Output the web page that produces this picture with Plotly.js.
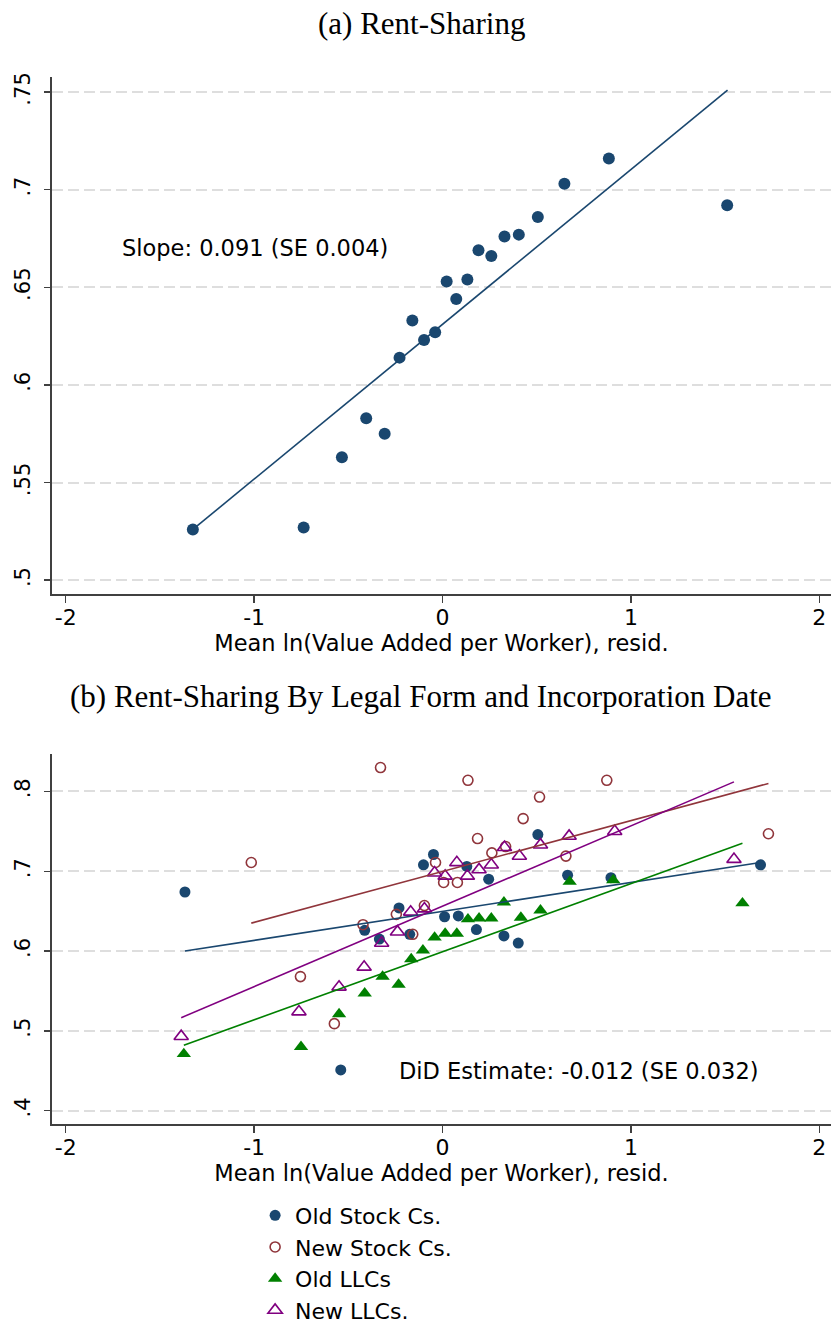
<!DOCTYPE html>
<html>
<head>
<meta charset="utf-8">
<script src="https://cdn.plot.ly/plotly-3.0.1.min.js"></script>
<style>
html,body{margin:0;padding:0;background:#fff;}
#chart{width:831px;height:1332px;}
</style>
</head>
<body>
<div id="chart"></div>
<script>
// ---------- Panel (a) data ----------
var aX = [-1.325, -0.737, -0.534, -0.405, -0.307, -0.228, -0.160, -0.098, -0.039, 0.022, 0.073, 0.132, 0.191, 0.259, 0.329, 0.405, 0.506, 0.647, 0.883, 1.511];
var aY = [0.526, 0.527, 0.563, 0.583, 0.575, 0.614, 0.633, 0.623, 0.627, 0.653, 0.644, 0.654, 0.669, 0.666, 0.676, 0.677, 0.686, 0.703, 0.716, 0.692];
var aFitX = [-1.325, 1.513];
var aFitY = [0.526, 0.751];

// ---------- Panel (b) data ----------
var oldStockX = [-1.367, -0.540, -0.413, -0.335, -0.231, -0.174, -0.101, -0.048, 0.011, 0.084, 0.129, 0.180, 0.245, 0.326, 0.402, 0.506, 0.664, 0.894, 1.688];
var oldStockY = [0.674, 0.451, 0.626, 0.615, 0.654, 0.621, 0.708, 0.721, 0.643, 0.644, 0.706, 0.627, 0.690, 0.619, 0.610, 0.746, 0.695, 0.692, 0.708];
var newStockX = [-1.015, -0.754, -0.574, -0.422, -0.329, -0.245, -0.158, -0.096, -0.037, 0.006, 0.079, 0.135, 0.186, 0.262, 0.335, 0.428, 0.515, 0.655, 0.872, 1.730];
var newStockY = [0.711, 0.568, 0.509, 0.633, 0.830, 0.646, 0.621, 0.657, 0.711, 0.686, 0.686, 0.814, 0.741, 0.723, 0.731, 0.766, 0.793, 0.719, 0.814, 0.747];
var oldLLCX = [-1.373, -0.751, -0.549, -0.413, -0.318, -0.233, -0.166, -0.104, -0.042, 0.014, 0.076, 0.135, 0.194, 0.259, 0.326, 0.416, 0.520, 0.675, 0.906, 1.592];
var oldLLCY = [0.471, 0.480, 0.521, 0.547, 0.568, 0.558, 0.590, 0.601, 0.617, 0.622, 0.622, 0.640, 0.641, 0.641, 0.661, 0.642, 0.651, 0.687, 0.689, 0.660];
var newLLCX = [-1.387, -0.762, -0.549, -0.416, -0.323, -0.239, -0.169, -0.096, -0.042, 0.014, 0.076, 0.132, 0.194, 0.259, 0.329, 0.408, 0.520, 0.672, 0.914, 1.547];
var newLLCY = [0.493, 0.524, 0.555, 0.580, 0.610, 0.624, 0.649, 0.653, 0.698, 0.694, 0.711, 0.694, 0.702, 0.708, 0.730, 0.719, 0.733, 0.744, 0.750, 0.715];
var fitOldStockX = [-1.367, 1.688], fitOldStockY = [0.600, 0.711];
var fitNewStockX = [-1.015, 1.730], fitNewStockY = [0.635, 0.810];
var fitOldLLCX = [-1.373, 1.592], fitOldLLCY = [0.482, 0.735];
var fitNewLLCX = [-1.387, 1.547], fitNewLLCY = [0.5165, 0.812];

var seriesNames = ["Old Stock Cs.", "New Stock Cs.", "Old LLCs", "New LLCs."];

// ---------- Tick labels ----------
var xTickVals = [-2, -1, 0, 1, 2];
var xTickText = ["-2", "-1", "0", "1", "2"];
var aTickVals = [0.5, 0.55, 0.6, 0.65, 0.7, 0.75];
var aTickText = [".5", ".55", ".6", ".65", ".7", ".75"];
var bTickVals = [0.4, 0.5, 0.6, 0.7, 0.8];
var bTickText = [".4", ".5", ".6", ".7", ".8"];

var xTitle = "Mean ln(Value Added per Worker), resid.";
var titleA = "(a) Rent-Sharing";
var titleB = "(b) Rent-Sharing By Legal Form and Incorporation Date";
var noteA = "Slope: 0.091 (SE 0.004)";
var noteB = "DiD Estimate: -0.012 (SE 0.032)";

var NAVY = "#1a476f", MAROON = "#90353b", GREEN = "#008000", PURPLE = "#800080";
var SANS = "DejaVu Sans, Verdana, sans-serif";
var SERIF = "Liberation Serif, Times New Roman, serif";

var traces = [
  {x: aX, y: aY, xaxis: "x", yaxis: "y", mode: "markers", type: "scatter", showlegend: false,
   marker: {color: NAVY, size: 12, symbol: "circle"}},
  {x: aFitX, y: aFitY, xaxis: "x", yaxis: "y", mode: "lines", type: "scatter", showlegend: false,
   line: {color: NAVY, width: 1.6}},

  {x: oldStockX, y: oldStockY, xaxis: "x2", yaxis: "y2", mode: "markers", type: "scatter", name: seriesNames[0],
   marker: {color: NAVY, size: 11, symbol: "circle"}},
  {x: newStockX, y: newStockY, xaxis: "x2", yaxis: "y2", mode: "markers", type: "scatter", name: seriesNames[1],
   marker: {color: MAROON, size: 10, symbol: "circle-open", line: {width: 1.6}}},
  {x: oldLLCX, y: oldLLCY, xaxis: "x2", yaxis: "y2", mode: "markers", type: "scatter", name: seriesNames[2],
   marker: {color: GREEN, size: 12.5, symbol: "triangle-up"}},
  {x: newLLCX, y: newLLCY, xaxis: "x2", yaxis: "y2", mode: "markers", type: "scatter", name: seriesNames[3],
   marker: {color: PURPLE, size: 12.5, symbol: "triangle-up-open", line: {width: 1.6}}},

  {x: fitOldStockX, y: fitOldStockY, xaxis: "x2", yaxis: "y2", mode: "lines", type: "scatter", showlegend: false,
   line: {color: NAVY, width: 1.6}},
  {x: fitNewStockX, y: fitNewStockY, xaxis: "x2", yaxis: "y2", mode: "lines", type: "scatter", showlegend: false,
   line: {color: MAROON, width: 1.6}},
  {x: fitOldLLCX, y: fitOldLLCY, xaxis: "x2", yaxis: "y2", mode: "lines", type: "scatter", showlegend: false,
   line: {color: GREEN, width: 1.6}},
  {x: fitNewLLCX, y: fitNewLLCY, xaxis: "x2", yaxis: "y2", mode: "lines", type: "scatter", showlegend: false,
   line: {color: PURPLE, width: 1.6}}
];

function xAxis(domain, anchor) {
  return {
    domain: domain, anchor: anchor, range: [-2.0727, 2.062],
    tickmode: "array", tickvals: xTickVals, ticktext: xTickText,
    showgrid: false, zeroline: false, showline: true, linecolor: "#404040", linewidth: 1.5,
    ticks: "outside", ticklen: 7, tickwidth: 1.5, tickcolor: "#404040",
    tickfont: {family: SANS, size: 22, color: "#000"}, ticklabelstandoff: -4,
    title: {text: xTitle, font: {family: SANS, size: 22.5, color: "#000"}, standoff: 2},
    automargin: false, fixedrange: true
  };
}
function yAxis(domain, anchor, range, vals, text) {
  return {
    domain: domain, anchor: anchor, range: range,
    tickmode: "array", tickvals: vals, ticktext: text, tickangle: -90,
    showgrid: true, gridcolor: "#dedede", gridwidth: 2, griddash: "11px,5px",
    zeroline: false, showline: true, linecolor: "#404040", linewidth: 1.5,
    ticks: "outside", ticklen: 6, tickwidth: 1.5, tickcolor: "#404040",
    tickfont: {family: SANS, size: 21, color: "#000"}, ticklabelstandoff: 6,
    automargin: false, fixedrange: true
  };
}

var layout = {
  width: 831, height: 1332,
  margin: {l: 0, r: 0, t: 0, b: 0, pad: 0},
  paper_bgcolor: "#ffffff", plot_bgcolor: "#ffffff",
  showlegend: true,
  xaxis: xAxis([0.06257, 1], "y"),
  yaxis: yAxis([0.54827, 0.94122], "x", [0.49292, 0.75758], aTickVals, aTickText),
  xaxis2: xAxis([0.06257, 1], "y2"),
  yaxis2: yAxis([0.14489, 0.42643], "x2", [0.38268, 0.84664], bTickVals, bTickText),
  legend: {
    x: 0.307, y: 0.0916, xanchor: "left", yanchor: "top",
    font: {family: SANS, size: 22, color: "#000"},
    bgcolor: "rgba(0,0,0,0)", borderwidth: 0, tracegroupgap: 0
  },
  annotations: [
    {text: titleA, xref: "paper", yref: "paper", x: 0.5078, y: 1 - 24/1332, xanchor: "center", yanchor: "middle",
     showarrow: false, font: {family: SERIF, size: 31, color: "#000"}},
    {text: titleB, xref: "paper", yref: "paper", x: 0.5066, y: 1 - 706/1332, xanchor: "center", yanchor: "middle",
     showarrow: false, font: {family: SERIF, size: 31, color: "#000"}},
    {text: noteA, xref: "x", yref: "y", x: -1.713, y: 0.670, xanchor: "left", yanchor: "middle",
     showarrow: false, font: {family: SANS, size: 22.5, color: "#000"}},
    {text: noteB, xref: "x2", yref: "y2", x: -0.239, y: 0.4495, xanchor: "left", yanchor: "middle",
     showarrow: false, font: {family: SANS, size: 22.5, color: "#000"}}
  ]
};

Plotly.newPlot("chart", traces, layout, {displayModeBar: false, staticPlot: true});
</script>
</body>
</html>
